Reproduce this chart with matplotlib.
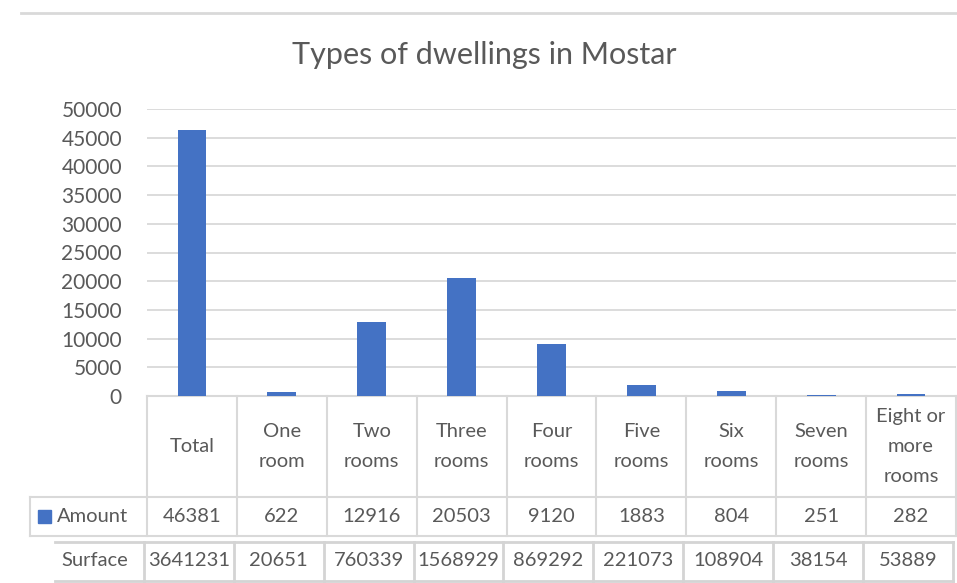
import numpy as np
import matplotlib
matplotlib.use('Agg')
import matplotlib.pyplot as plt

plt.rcParams['font.family'] = ['Lato', 'DejaVu Sans']

title = 'Types of dwellings in Mostar'
categories = ['Total', 'One\nroom', 'Two\nrooms', 'Three\nrooms', 'Four\nrooms',
              'Five\nrooms', 'Six\nrooms', 'Seven\nrooms', 'Eight or\nmore\nrooms']
amount = [46381, 622, 12916, 20503, 9120, 1883, 804, 251, 282]
surface = [3641231, 20651, 760339, 1568929, 869292, 221073, 108904, 38154, 53889]
yticks = np.arange(0, 50001, 5000)

W, H = 957, 583
txt = '#595959'
grid = '#D9D9D9'
blue = '#4472C4'

fig = plt.figure(figsize=(W/100, H/100), dpi=100)

# pixel helpers
ax_l, ax_r, ax_t, ax_b = 147, 956, 109, 396
ax = fig.add_axes([ax_l/W, 1-ax_b/H, (ax_r-ax_l)/W, (ax_b-ax_t)/H])
def yf(py):
	return (ax_b-py)/(ax_b-ax_t)

x = np.arange(len(categories))
ax.bar(x, amount, width=0.32, color=blue, zorder=3)
ax.set_xlim(-0.5, len(categories)-0.5)
ax.set_ylim(0, 50000)
ax.set_yticks(yticks)
ax.set_yticklabels([str(v) for v in yticks], fontsize=15, color=txt)
ax.tick_params(axis='y', length=0, pad=18)
ax.set_xticks([])
ax.yaxis.grid(True, color=grid, lw=1.3, zorder=0)
for s in ax.spines.values():
	s.set_visible(False)

# overlay in pixel coords
ov = fig.add_axes([0, 0, 1, 1], zorder=-1)
ov.set_xlim(0, W)
ov.set_ylim(H, 0)
ov.axis('off')
ov.plot([21, W], [13, 13], color=grid, lw=2)

fig.text(484/W, 1-55/H, title, ha='center', va='center', fontsize=22, color=txt)

trans = ax.get_xaxis_transform()
lc = '#D9D9D9'
# data table: category + amount rows
ax.plot([-0.5, len(categories)-0.5], [yf(396)]*2, transform=trans, color=lc, lw=1.5, clip_on=False)
for i in range(len(categories)+1):
	ax.plot([i-0.5]*2, [yf(396), yf(536)], transform=trans, color=lc, lw=1.5, clip_on=False)
for py in [497, 536]:
	ov.plot([30, ax_r], [py, py], color=lc, lw=1.5)
ov.plot([30, 30], [497, 536], color=lc, lw=1.5)

for i, c in enumerate(categories):
	ax.text(i, yf(446.5), c, transform=trans, ha='center', va='center', fontsize=14.5,
		color=txt, linespacing=1.95)
	ax.text(i, yf(517), str(amount[i]), transform=trans, ha='center', va='center',
		fontsize=14.5, color=txt)

ov.add_patch(plt.Rectangle((38, 510), 13, 13, color=blue))
ov.text(57, 517, 'Amount', ha='left', va='center', fontsize=14.5, color=txt)

# surface row (separate table under the chart)
off = -0.035
for py in [542, 581]:
	ov.plot([55, 953], [py, py], color='#D4D4D4', lw=2)
for i in range(len(categories)+1):
	ax.plot([i-0.5+off]*2, [yf(542), yf(581)], transform=trans, color='#D4D4D4', lw=2, clip_on=False)
ov.text(95, 560, 'Surface', ha='center', va='center', fontsize=14.5, color=txt)
for i, v in enumerate(surface):
	ax.text(i+off, yf(560), str(v), transform=trans, ha='center', va='center',
		fontsize=14.5, color=txt)

plt.savefig('out.png', dpi=100)
